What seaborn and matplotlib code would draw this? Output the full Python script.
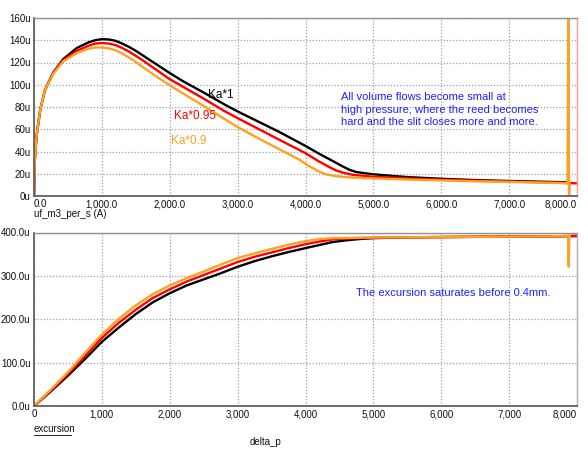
import numpy as np
import pandas as pd
import matplotlib
matplotlib.use("Agg")
import matplotlib.pyplot as plt
import seaborn as sns
from matplotlib.ticker import FixedLocator, FuncFormatter

# ---------------- data ----------------
series_names = ["Ka*1", "Ka*0.95", "Ka*0.9"]
series_colors = ["#000000", "#ff0000", "#ffa01e"]

# top: uf_m3_per_s (values in u) vs delta_p
flow_x_black = [0, 10, 20, 40, 90, 160, 285, 430, 630, 800, 900, 1000, 1100, 1200, 1300, 1400,
                1500, 1600, 1800, 2000, 2200, 2500, 2800, 3000, 3300, 3600, 4000, 4200, 4400,
                4550, 4650, 4750, 5000, 5500, 6000, 6500, 7000, 7500, 7850]
flow_y_black = [0, 30, 40, 55, 77, 95, 111, 123, 133, 138, 140, 141, 140.7, 139.5, 137, 134,
                130.5, 126.5, 118.5, 110.5, 103, 93, 82.5, 76, 67, 58, 45, 38, 31.5,
                26.5, 23.5, 21.5, 19.5, 17, 15.5, 14.3, 13.5, 12.8, 12.3]

flow_x_red = [0, 10, 20, 40, 90, 160, 285, 430, 630, 800, 900, 1000, 1100, 1200, 1300, 1400,
              1500, 1600, 1800, 2000, 2200, 2500, 2800, 3000, 3300, 3600, 4000, 4200, 4350,
              4450, 4550, 4700, 5000, 5500, 6000, 6500, 7000, 7500, 8000]
flow_y_red = [0, 30, 40, 55, 77, 95, 111, 122, 130.5, 135, 137, 137.5, 137, 135.7, 133, 129.8,
              126, 122, 113.5, 105, 98, 87.5, 76.5, 70, 60.5, 51, 38.5, 31, 26,
              23, 21, 19, 17.3, 15.8, 14.7, 13.8, 13, 12.3, 11.4]

flow_x_orange = [0, 10, 20, 40, 90, 160, 285, 430, 630, 800, 900, 1000, 1100, 1200, 1300, 1400,
                 1500, 1600, 1800, 2000, 2200, 2500, 2800, 3000, 3300, 3600, 3900, 4050, 4200,
                 4300, 4450, 4700, 5000, 5500, 6000, 6500, 7000, 7500, 7860, 7874, 7882, 7892]
flow_y_orange = [5, 30, 40, 55, 77, 95, 110, 121, 128.5, 132.3, 133.5, 133.5, 132.8, 131, 128, 124.5,
                 120.5, 116, 107.5, 99.5, 92, 81, 69.5, 62, 52, 42.5, 33, 27, 22,
                 19.5, 17.8, 16.5, 15.8, 14.8, 14, 13.2, 12.7, 12, 11.5, 165, 0, 11]

# bottom: excursion (values in u) vs delta_p
exc_x_black = [0, 250, 500, 750, 1000, 1250, 1500, 1750, 2000, 2250, 2500, 2750, 3000, 3250, 3500,
               3750, 4000, 4200, 4400, 4600, 4800, 5000, 5500, 6500, 7500, 8000]
exc_y_black = [0, 34, 70, 108, 148, 181, 212, 239, 260, 278, 292, 306, 321, 334, 345,
               355, 364, 371, 378, 382, 385, 387, 389, 390, 391, 392]

exc_x_red = [0, 250, 500, 750, 1000, 1250, 1500, 1750, 2000, 2250, 2500, 2750, 3000, 3250, 3500,
             3750, 4000, 4200, 4400, 4600, 4800, 5000, 5500, 6500, 7500, 8000]
exc_y_red = [0, 36, 74, 115, 157, 192, 222, 249, 269, 287, 302, 317, 332, 344, 354,
             364, 373, 379, 384, 386, 387, 388, 389, 390, 391, 392]

exc_x_orange = [0, 250, 500, 750, 1000, 1250, 1500, 1750, 2000, 2250, 2500, 2750, 3000, 3250, 3500,
                3750, 4000, 4200, 4400, 4600, 4800, 5000, 5500, 6500, 7500, 7870, 7878, 7886, 7894]
exc_y_orange = [0, 38, 78, 122, 165, 201, 232, 258, 278, 295, 310, 326, 341, 352, 362,
                372, 380, 385, 387, 387.5, 388, 388.5, 389, 390, 391, 392, 321, 392, 392]

top_yticks = [0, 20, 40, 60, 80, 100, 120, 140, 160]
bot_yticks = [0, 100, 200, 300, 400]
xticks = [0, 1000, 2000, 3000, 4000, 5000, 6000, 7000, 8000]

# ---------------- style ----------------
sns.set_theme(style="white")
plt.rcParams["font.family"] = ["Liberation Sans", "DejaVu Sans"]

def build(xs, ys):
    frames = []
    for name, x, y in zip(series_names, xs, ys):
        frames.append(pd.DataFrame({"x": x, "y": y, "series": name}))
    return pd.concat(frames, ignore_index=True)

df_top = build([flow_x_black, flow_x_red, flow_x_orange], [flow_y_black, flow_y_red, flow_y_orange])
df_bot = build([exc_x_black, exc_x_red, exc_x_orange], [exc_y_black, exc_y_red, exc_y_orange])
palette = dict(zip(series_names, series_colors))

fig = plt.figure(figsize=(5.88, 4.49), dpi=100)
ax1 = fig.add_axes([34 / 588, 1 - 196 / 449, 543 / 588, 178 / 449])
ax2 = fig.add_axes([34 / 588, 1 - 406 / 449, 543 / 588, 173.5 / 449])

for ax, df in ((ax1, df_top), (ax2, df_bot)):
    sns.lineplot(data=df, x="x", y="y", hue="series", palette=palette, hue_order=series_names,
                 sort=False, estimator=None, linewidth=1.7, legend=False, ax=ax)
    ax.set_xlim(0, 8000)
    ax.xaxis.set_major_locator(FixedLocator(xticks))
    ax.grid(True, which="major", color="#a0a0a0", linestyle=(0, (1, 1.5)), linewidth=0.9)
    ax.set_axisbelow(True)
    ax.tick_params(axis="both", length=0, labelsize=7, colors="#111111", pad=2.5)
    ax.set_xlabel("")
    ax.set_ylabel("")
    for s in ("left", "bottom"):
        ax.spines[s].set_color("#606060")
        ax.spines[s].set_linewidth(1.3)
    ax.spines["top"].set_color("#909090")
    ax.spines["top"].set_linewidth(1.0)
    ax.spines["right"].set_color("#b0b0b0")
    ax.spines["right"].set_linewidth(1.0)

ax1.spines["right"].set_color("#ff9a9a")
ax1.set_ylim(0, 160)
ax1.yaxis.set_major_locator(FixedLocator(top_yticks))
ax1.yaxis.set_major_formatter(FuncFormatter(lambda v, p: f"{v:g}u"))
ax1.xaxis.set_major_formatter(FuncFormatter(lambda v, p: f"{v:,.1f}"))

ax2.set_ylim(0, 400)
ax2.yaxis.set_major_locator(FixedLocator(bot_yticks))
ax2.yaxis.set_major_formatter(FuncFormatter(lambda v, p: f"{v:.1f}u"))
ax2.xaxis.set_major_formatter(FuncFormatter(lambda v, p: f"{v:,.0f}"))

fig.canvas.draw()
lab1 = ax1.get_xticklabels()
lab1[0].set_horizontalalignment("left")
lab1[-1].set_horizontalalignment("right")
ax2.get_xticklabels()[-1].set_horizontalalignment("right")

# annotations
ax1.text(2563, 91, "Ka*1", color="#000000", fontsize=8.5, ha="left", va="center")
ax1.text(2062, 72, "Ka*0.95", color="#ff0000", fontsize=8.5, ha="left", va="center")
ax1.text(2018, 49.5, "Ka*0.9", color="#ffa01e", fontsize=8.5, ha="left", va="center")
ax1.text(4523, 77.5, "All volume flows become small at\nhigh pressure, where the reed becomes\n"
         "hard and the slit closes more and more.", color="#2020ff", fontsize=8,
         ha="left", va="center", linespacing=1.3)
ax2.text(4743, 260, "The excursion saturates before 0.4mm.", color="#2020ff", fontsize=8,
         ha="left", va="center")

fig.text(34 / 588, 1 - 214 / 449, "uf_m3_per_s (A)", fontsize=7, ha="left", va="center", color="#111111")
fig.text(34 / 588, 1 - 429 / 449, "excursion", fontsize=7, ha="left", va="center", color="#111111")
fig.add_artist(plt.Line2D([34 / 588, 71 / 588], [1 - 434.5 / 449, 1 - 434.5 / 449], color="#222222", linewidth=0.7))
fig.text(266 / 588, 1 - 442 / 449, "delta_p", fontsize=7, ha="center", va="center", color="#111111")

fig.savefig("out.png", dpi=100)
